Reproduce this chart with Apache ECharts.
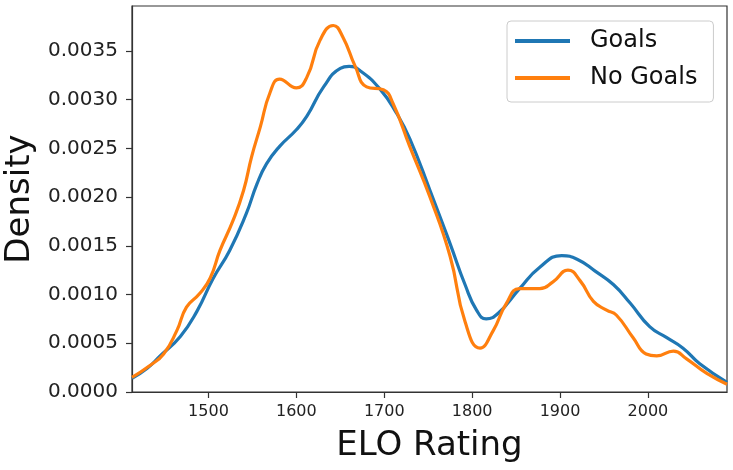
<!DOCTYPE html>
<html>
<head>
<meta charset="utf-8">
<script src="https://cdn.jsdelivr.net/npm/echarts@6/dist/echarts.min.js"></script>
<style>html,body{margin:0;padding:0;background:#fff;}#chart{width:733px;height:470px;}</style>
</head>
<body>
<div id="chart"></div>
<script>
// ELO ratings and densities (KDE curves)
const goalsElo = [1413,1430,1445,1468,1487,1505,1524,1543,1555,1566,1581,1600,1612,1631,1650,1660,1672,1695,1714,1729,1752,1775,1792,1805,1816,1830,1854,1877,1902,1920,1940,1961,1980,2002,2021,2040,2059,2090];
const goalsDensity = [0.00014,0.00024,0.00037,0.00057,0.00083,0.00116,0.00145,0.00183,0.00213,0.00234,0.00252,0.00269,0.00283,0.00313,0.00332,0.00334,0.00330,0.00311,0.00286,0.00260,0.00207,0.00152,0.00110,0.00084,0.00075,0.00081,0.00106,0.00128,0.00140,0.00136,0.00124,0.00110,0.00091,0.00067,0.00056,0.00045,0.00029,0.00010];
const noGoalsElo = [1413,1433,1449,1464,1475,1490,1502,1513,1528,1540,1549,1559,1570,1581,1600,1612,1627,1642,1653,1667,1680,1699,1710,1729,1752,1775,1792,1809,1824,1839,1854,1877,1892,1909,1923,1938,1953,1964,1983,1998,2010,2029,2044,2067,2090];
const noGoalsDensity = [0.00015,0.00027,0.00039,0.00063,0.00087,0.00101,0.00117,0.00145,0.00176,0.00207,0.00241,0.00272,0.00307,0.00321,0.00312,0.00323,0.00361,0.00376,0.00364,0.00334,0.00313,0.00310,0.00296,0.00252,0.00200,0.00139,0.00072,0.00045,0.00063,0.00091,0.00106,0.00106,0.00113,0.00125,0.00114,0.00093,0.00084,0.00079,0.00056,0.00039,0.00037,0.00042,0.00034,0.00019,0.00008];
const xTicks = [1500,1600,1700,1800,1900,2000];
const yTicks = [0,0.0005,0.0010,0.0015,0.0020,0.0025,0.0030,0.0035];
const seriesNames = ['Goals','No Goals'];

const FONT = 'DejaVu Sans';
const pair = (xs, ys) => xs.map((x, i) => [x, ys[i]]);

const chart = echarts.init(document.getElementById('chart'), null, {renderer: 'canvas'});
chart.setOption({
  animation: false,
  backgroundColor: '#ffffff',
  grid: {left: 132, right: 6, top: 6, bottom: 78, outerBoundsMode: 'none', containLabel: false,
         show: true, borderColor: '#333', borderWidth: 1.2, backgroundColor: 'transparent'},
  legend: {
    left: 507, top: 21, orient: 'vertical',
    data: seriesNames,
    icon: 'rect', itemWidth: 55, itemHeight: 4, itemGap: 13,
    padding: [8, 16, 12, 8],
    borderColor: '#cccccc', borderWidth: 1, borderRadius: 4,
    backgroundColor: 'rgba(255,255,255,0.8)',
    textStyle: {fontFamily: FONT, fontSize: 24, color: '#111', padding: [0, 0, 0, 15]}
  },
  xAxis: {
    type: 'value', min: 1413, max: 2090,
    name: 'ELO Rating', nameLocation: 'middle', nameGap: 37,
    nameTextStyle: {fontFamily: FONT, fontSize: 34, color: '#111'},
    axisLine: {show: true, lineStyle: {color: '#333', width: 1.2}},
    axisTick: {show: true, length: 6, lineStyle: {color: '#333', width: 1.2}, customValues: xTicks},
    axisLabel: {fontFamily: FONT, fontSize: 16, color: '#222', margin: 12, customValues: xTicks,
      formatter: v => String(Math.round(v))},
    splitLine: {show: false}
  },
  yAxis: {
    type: 'value', min: 0, max: 0.00396,
    name: 'Density', nameLocation: 'middle', nameGap: 91,
    nameTextStyle: {fontFamily: FONT, fontSize: 34, color: '#111'},
    axisLine: {show: true, lineStyle: {color: '#333', width: 1.2}},
    axisTick: {show: true, length: 6, lineStyle: {color: '#333', width: 1.2}, customValues: yTicks},
    axisLabel: {fontFamily: FONT, fontSize: 20, color: '#222', margin: 14, customValues: yTicks,
      formatter: v => v.toFixed(4)},
    splitLine: {show: false}
  },
  series: [
    {name: seriesNames[0], type: 'line', data: pair(goalsElo, goalsDensity), showSymbol: false, symbol: 'none',
     smooth: 0.5, lineStyle: {color: '#1f77b4', width: 3.2}, itemStyle: {color: '#1f77b4'}},
    {name: seriesNames[1], type: 'line', data: pair(noGoalsElo, noGoalsDensity), showSymbol: false, symbol: 'none',
     smooth: 0.5, lineStyle: {color: '#ff7f0e', width: 3.2}, itemStyle: {color: '#ff7f0e'}}
  ]
});
</script>
</body>
</html>
